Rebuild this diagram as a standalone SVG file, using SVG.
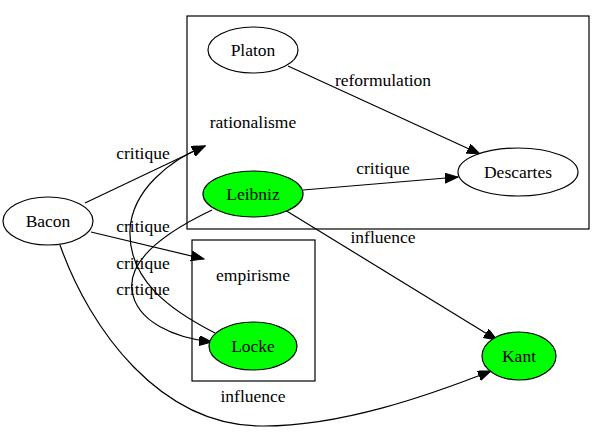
<svg xmlns="http://www.w3.org/2000/svg" width="605" height="433" viewBox="0 0 605 433">
<style>
text{font-family:"Liberation Serif","DejaVu Serif","Times New Roman",serif;font-size:17.5px;fill:#000;text-anchor:middle}
.n{fill:#fff;stroke:#000;stroke-width:1.2}
.g{fill:#00ff00;stroke:#000;stroke-width:1.2}
.c{fill:none;stroke:#000;stroke-width:1.2}
.e{fill:none;stroke:#000;stroke-width:1.2;marker-end:url(#arr)}
</style>
<defs>
<marker id="arr" markerUnits="userSpaceOnUse" markerWidth="14" markerHeight="12" refX="13" refY="5" orient="auto">
<path d="M0,0 L13,5 L0,10 z" fill="#000" stroke="#000" stroke-width="1"/>
</marker>
</defs>
<rect width="605" height="433" fill="#fff"/>
<g id="cluster_rationalisme">
<rect class="c" x="187" y="16" width="402" height="213"/>
<text x="253" y="128">rationalisme</text>
</g>
<g id="cluster_empirisme">
<rect class="c" x="192" y="240" width="123" height="141"/>
<text x="253" y="281">empirisme</text>
</g>
<g id="edges">
<path class="e" d="M288,66 L480,154"/>
<text x="383" y="86">reformulation</text>
<path class="e" d="M303,190 L458,177"/>
<text x="383" y="174">critique</text>
<path class="e" d="M285,210 L497,340"/>
<text x="383" y="243">influence</text>
<path class="e" d="M85,203 L205,146"/>
<text x="143" y="159">critique</text>
<path class="e" d="M91,232 L204,259"/>
<text x="143" y="232">critique</text>
<path class="e" d="M215,333 C170,310 128,280 130,230 C132,190 170,160 205,146"/>
<text x="143" y="269">critique</text>
<path class="e" d="M212,210 C170,230 128,258 132,290 C136,322 175,338 212,342"/>
<text x="143" y="295">critique</text>
<path class="e" d="M60,245 C90,330 160,425 260,426 C340,427 430,395 491,371"/>
<text x="253" y="402">influence</text>
</g>
<g id="Platon"><ellipse class="n" cx="253" cy="50" rx="45" ry="23"/><text x="253" y="56">Platon</text></g>
<g id="Descartes"><ellipse class="n" cx="518" cy="172" rx="60" ry="24"/><text x="518" y="178">Descartes</text></g>
<g id="Leibniz"><ellipse class="g" cx="253" cy="194" rx="50" ry="23"/><text x="253" y="200">Leibniz</text></g>
<g id="Bacon"><ellipse class="n" cx="48" cy="221" rx="45" ry="24"/><text x="48" y="227">Bacon</text></g>
<g id="Locke"><ellipse class="g" cx="253" cy="346" rx="44" ry="24"/><text x="253" y="352">Locke</text></g>
<g id="Kant"><ellipse class="g" cx="519" cy="356" rx="37" ry="24"/><text x="519" y="362">Kant</text></g>
</svg>
